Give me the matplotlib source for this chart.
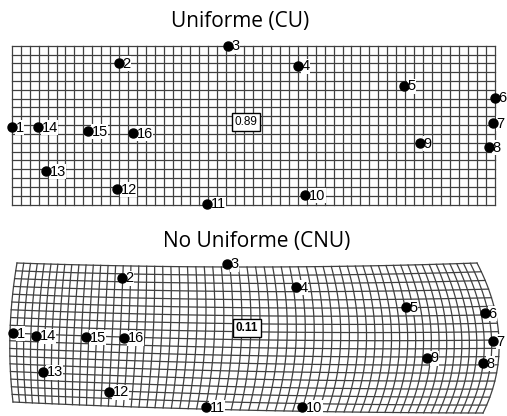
import numpy as np
import matplotlib.pyplot as plt

# point ids and positions (pixels)
ids = [str(i) for i in range(1, 17)]
cu_x = [12, 119, 228, 298, 404, 495, 493, 489, 420, 305, 207, 117, 46, 38, 88, 133]
cu_y = [127, 63, 46, 66, 86, 98, 123, 147, 143, 195, 204, 189, 171, 127, 131, 133]
cnu_x = [13, 122, 227, 296, 406, 485, 493, 483, 427, 302, 206, 109, 43, 36, 86, 124]
cnu_y = [333, 278, 264, 287, 307, 313, 341, 363, 358, 407, 407, 392, 372, 336, 337, 338]

titles = ["Uniforme (CU)", "No Uniforme (CNU)"]
scores = ["0.89", "0.11"]
score_pos = [(246, 122), (247, 328)]
title_pos = [(240, 22), (257, 241)]

GRID = '#404040'


def draw_grid(ax, nx, ny, corners, mids, squeeze=0.0):
    # coons patch between four (quadratic) edges
    p00, p10, p01, p11 = [np.array(c, float) for c in corners]
    mt, mb, ml, mr = [np.array(m, float) for m in mids]

    def quad(a, m, b, t):
        c = 2 * m - (a + b) / 2
        t = t[..., None]
        return (1 - t) ** 2 * a + 2 * t * (1 - t) * c + t ** 2 * b

    def surf(u, v):
        top = quad(p00, mt, p10, u)
        bot = quad(p01, mb, p11, u)
        left = quad(p00, ml, p01, v)
        right = quad(p10, mr, p11, v)
        uu, vv = u[..., None], v[..., None]
        bil = ((1 - uu) * (1 - vv) * p00 + uu * (1 - vv) * p10
               + (1 - uu) * vv * p01 + uu * vv * p11)
        return (1 - vv) * top + vv * bot + (1 - uu) * left + uu * right - bil

    s = np.linspace(0, 1, 120)
    us = np.linspace(0, 1, nx + 1)
    us = us - squeeze * np.sin(2 * np.pi * us) / (2 * np.pi)
    vs = np.linspace(0, 1, ny + 1)
    for u in us:
        pts = surf(np.full_like(s, u), s)
        ax.plot(pts[:, 0], pts[:, 1], color=GRID, lw=0.9, zorder=1)
    for v in vs:
        pts = surf(s, np.full_like(s, v))
        ax.plot(pts[:, 0], pts[:, 1], color=GRID, lw=0.9, zorder=1)


fig = plt.figure(figsize=(5.07, 4.16), dpi=100)
ax = fig.add_axes([0, 0, 1, 1])
ax.set_xlim(0, 507)
ax.set_ylim(416, 0)
ax.axis('off')

# uniform grid
draw_grid(ax, 54, 18,
          [(12, 46), (495, 46), (12, 205), (495, 205)],
          [(253, 46), (253, 205), (12, 125), (495, 125)])
# distorted grid
draw_grid(ax, 60, 18,
          [(17, 263), (477, 263), (13, 402), (483, 413)],
          [(247, 267), (240, 410), (10, 333), (499, 340)], squeeze=0.12)

for xs, ys in [(cu_x, cu_y), (cnu_x, cnu_y)]:
    for lab, x, y in zip(ids, xs, ys):
        ax.text(x + 3.5, y + 0.5, lab, fontsize=10.5, family='Liberation Sans',
                va='center', ha='left', zorder=4,
                bbox=dict(boxstyle='square,pad=0.05', fc='white', ec='none'))
    ax.plot(xs, ys, 'o', color='black', ms=6.5, zorder=5)

for i in range(2):
    ax.text(*title_pos[i], titles[i], fontsize=15, family='Open Sans',
            ha='center', va='center')
    ax.text(*score_pos[i], scores[i], fontsize=8.5, family='Liberation Sans',
            fontweight='normal' if i == 0 else 'bold',
            ha='center', va='center', zorder=5,
            bbox=dict(boxstyle='square,pad=0.25', fc='white', ec='black', lw=1))

fig.savefig('out.png', dpi=100)
